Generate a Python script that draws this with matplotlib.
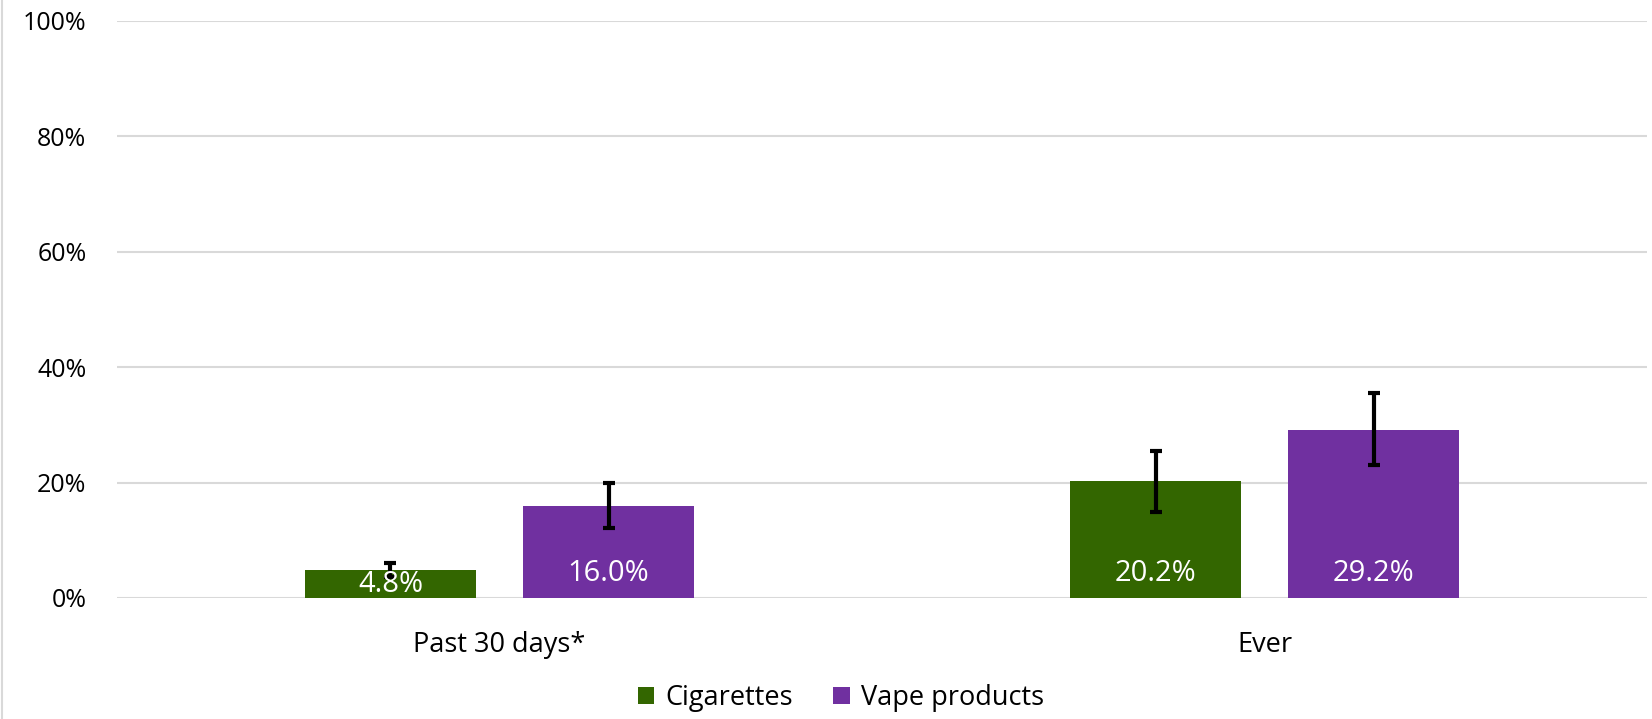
import matplotlib
matplotlib.use("Agg")
import matplotlib.pyplot as plt
from matplotlib.lines import Line2D
import numpy as np

categories = ["Past 30 days*", "Ever"]
series_names = ["Cigarettes", "Vape products"]
cigarettes = [4.8, 20.2]
vape = [16.0, 29.2]
cig_low = [3.6, 14.9]
cig_high = [6.1, 25.5]
vape_low = [12.1, 23.0]
vape_high = [19.9, 35.5]
yticks = [0, 20, 40, 60, 80, 100]
ytick_labels = ["0%", "20%", "40%", "60%", "80%", "100%"]
colors = ["#336600", "#7030A0"]

plt.rcParams['font.family'] = ['Open Sans', 'DejaVu Sans']

fig = plt.figure(figsize=(16.52, 7.19), dpi=100)
ax = fig.add_axes([0.0708, 0.1683, 0.997 - 0.0708, 0.9708 - 0.1683])

x = np.arange(len(categories))
width = 0.224
offset = 0.1425

for i, (vals, lo, hi, col) in enumerate([
        (cigarettes, cig_low, cig_high, colors[0]),
        (vape, vape_low, vape_high, colors[1])]):
    pos = x + (-offset if i == 0 else offset)
    ax.bar(pos, vals, width, color=col, label=series_names[i], zorder=2)
    yerr = [np.array(vals) - np.array(lo), np.array(hi) - np.array(vals)]
    ax.errorbar(pos, vals, yerr=yerr, fmt='none', ecolor='black',
                elinewidth=3, capsize=4, capthick=3, zorder=3)
    for p, v in zip(pos, vals):
        yc = min(4.3, v / 2)
        ax.text(p, yc, f"{v:.1f}%", ha='center', va='center',
                color='white', fontsize=21, zorder=4)

ax.set_xlim(-0.5, 1.5)
ax.set_ylim(0, 100)
ax.set_yticks(yticks)
ax.set_yticklabels(ytick_labels, fontsize=18)
ax.set_xticks(x)
ax.set_xticklabels(categories, fontsize=19.5)
ax.tick_params(axis='y', length=0, pad=22)
ax.tick_params(axis='x', length=0, pad=24)
ax.grid(axis='y', color='#d9d9d9', linewidth=1.5, zorder=0)
ax.set_axisbelow(True)
for s in ax.spines.values():
    s.set_visible(False)

leg = fig.legend(loc='center', bbox_to_anchor=(0.509, 1 - 698 / 719), ncol=2,
                 frameon=False, fontsize=19.5, handlelength=0.62, handleheight=0.62,
                 handletextpad=0.4, columnspacing=1.5)

fig.add_artist(Line2D([0.0012, 0.0012], [0, 1], transform=fig.transFigure,
                      color='#d9d9d9', linewidth=1.5))

fig.savefig("out.png", dpi=100)
